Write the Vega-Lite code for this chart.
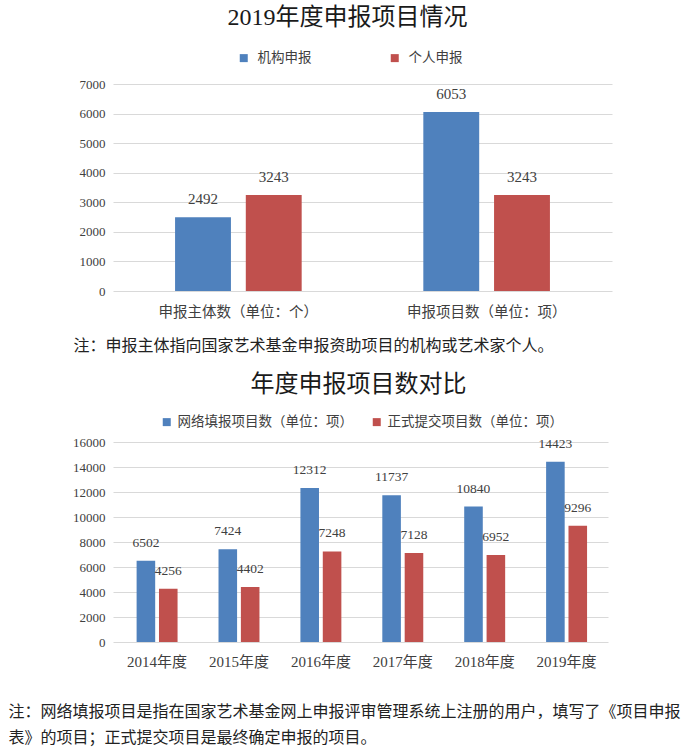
{
  "$schema": "https://vega.github.io/schema/vega-lite/v6.json",
  "background": "white",
  "padding": {"left": 8, "top": 6, "right": 5, "bottom": 5},
  "config": {
    "font": "'Liberation Serif', 'Noto Sans CJK SC', serif",
    "view": {"stroke": null},
    "axis": {"labelFont": "'Liberation Serif', 'Noto Sans CJK SC', serif", "titleFont": "'Liberation Serif', 'Noto Sans CJK SC', serif"},
    "legend": {"labelFont": "'Liberation Serif', 'Noto Sans CJK SC', serif", "labelLimit": 400},
    "title": {"font": "'Liberation Serif', 'Noto Sans CJK SC', serif", "fontWeight": "normal", "color": "#1a1a1a"}
  },
  "bounds": "flush",
  "spacing": 151,
  "resolve": {"scale": {"color": "independent", "x": "independent", "y": "independent", "xOffset": "independent"}},
  "vconcat": [
    {
      "width": 499,
      "height": 207,
      "title": {"text": "2019年度申报项目情况", "fontSize": 24, "offset": 21, "dx": -15},
      "data": {"values": [
        {"cat": "申报主体数（单位：个）", "series": "机构申报", "value": 2492},
        {"cat": "申报主体数（单位：个）", "series": "个人申报", "value": 3243},
        {"cat": "申报项目数（单位：项）", "series": "机构申报", "value": 6053},
        {"cat": "申报项目数（单位：项）", "series": "个人申报", "value": 3243}
      ]},
      "encoding": {
        "x": {"field": "cat", "type": "nominal", "sort": null,
          "scale": {"paddingInner": 0.49, "paddingOuter": 0.25},
          "axis": {"labelAngle": 0, "domain": false, "ticks": false, "labelPadding": 14, "labelFontSize": 14.5, "labelColor": "#404040",
            "title": "注：申报主体指向国家艺术基金申报资助项目的机构或艺术家个人。",
            "titleFontSize": 16, "titleFontWeight": "normal", "titleColor": "#222222",
            "titleX": -40, "titleY": 46, "titleAlign": "left", "titleBaseline": "top", "titleAnchor": "start"}},
        "xOffset": {"field": "series", "type": "nominal", "sort": ["机构申报", "个人申报"],
          "scale": {"domain": ["机构申报", "个人申报"], "paddingInner": 0.21, "paddingOuter": 0}},
        "y": {"field": "value", "type": "quantitative",
          "scale": {"domain": [0, 7000], "nice": false},
          "axis": {"values": [0, 1000, 2000, 3000, 4000, 5000, 6000, 7000], "format": "d", "title": null,
            "domain": false, "ticks": false, "labelPadding": 8, "labelFontSize": 13, "labelColor": "#404040",
            "gridColor": "#d9d9d9", "gridWidth": 1}}
      },
      "layer": [
        {"mark": {"type": "bar"},
          "encoding": {"color": {"field": "series", "type": "nominal", "sort": ["机构申报", "个人申报"],
            "scale": {"domain": ["机构申报", "个人申报"], "range": ["#4f81bd", "#c0504d"]},
            "legend": {"title": null, "orient": "none", "direction": "horizontal", "columns": 2,
              "legendX": 124, "legendY": -33, "symbolType": "square", "symbolSize": 64, "symbolStrokeWidth": 0,
              "labelFontSize": 13.5, "labelColor": "#404040", "labelOffset": 7, "columnPadding": 76}}}},
        {"mark": {"type": "text", "baseline": "middle", "dy": -18, "fontSize": 15, "color": "#404040"},
          "encoding": {"text": {"field": "value", "type": "quantitative", "format": "d"}}}
      ]
    },
    {
      "width": 495,
      "height": 200,
      "title": {"text": "年度申报项目数对比", "fontSize": 24, "offset": 18, "dx": -2},
      "data": {"values": [
        {"year": "2014年度", "series": "网络填报项目数（单位：项）", "value": 6502},
        {"year": "2014年度", "series": "正式提交项目数（单位：项）", "value": 4256},
        {"year": "2015年度", "series": "网络填报项目数（单位：项）", "value": 7424},
        {"year": "2015年度", "series": "正式提交项目数（单位：项）", "value": 4402},
        {"year": "2016年度", "series": "网络填报项目数（单位：项）", "value": 12312},
        {"year": "2016年度", "series": "正式提交项目数（单位：项）", "value": 7248},
        {"year": "2017年度", "series": "网络填报项目数（单位：项）", "value": 11737},
        {"year": "2017年度", "series": "正式提交项目数（单位：项）", "value": 7128},
        {"year": "2018年度", "series": "网络填报项目数（单位：项）", "value": 10840},
        {"year": "2018年度", "series": "正式提交项目数（单位：项）", "value": 6952},
        {"year": "2019年度", "series": "网络填报项目数（单位：项）", "value": 14423},
        {"year": "2019年度", "series": "正式提交项目数（单位：项）", "value": 9296}
      ]},
      "encoding": {
        "x": {"field": "year", "type": "nominal", "sort": null,
          "scale": {"paddingInner": 0.5, "paddingOuter": 0.272, "align": 0.53},
          "axis": {"labelAngle": 0, "domain": false, "ticks": false, "labelPadding": 12, "labelFontSize": 15, "labelColor": "#404040",
            "title": ["注：网络填报项目是指在国家艺术基金网上申报评审管理系统上注册的用户，填写了《项目申报", "表》的项目；正式提交项目是最终确定申报的项目。"],
            "titleFontSize": 16, "titleFontWeight": "normal", "titleColor": "#222222", "titleLineHeight": 26,
            "titleX": -105, "titleY": 61, "titleAlign": "left", "titleBaseline": "top", "titleAnchor": "start"}},
        "xOffset": {"field": "series", "type": "nominal", "sort": ["网络填报项目数（单位：项）", "正式提交项目数（单位：项）"],
          "scale": {"domain": ["网络填报项目数（单位：项）", "正式提交项目数（单位：项）"], "paddingInner": 0.17, "paddingOuter": 0}},
        "y": {"field": "value", "type": "quantitative",
          "scale": {"domain": [0, 16000], "nice": false},
          "axis": {"values": [0, 2000, 4000, 6000, 8000, 10000, 12000, 14000, 16000], "format": "d", "title": null,
            "domain": false, "ticks": false, "labelPadding": 8, "labelFontSize": 13, "labelColor": "#404040",
            "gridColor": "#d9d9d9", "gridWidth": 1}}
      },
      "layer": [
        {"mark": {"type": "bar"},
          "encoding": {"color": {"field": "series", "type": "nominal", "sort": ["网络填报项目数（单位：项）", "正式提交项目数（单位：项）"],
            "scale": {"domain": ["网络填报项目数（单位：项）", "正式提交项目数（单位：项）"], "range": ["#4f81bd", "#c0504d"]},
            "legend": {"title": null, "orient": "none", "direction": "horizontal", "columns": 2,
              "legendX": 47, "legendY": -27, "symbolType": "square", "symbolSize": 64, "symbolStrokeWidth": 0,
              "labelFontSize": 13.5, "labelColor": "#404040", "labelOffset": 4, "columnPadding": 17}}}},
        {"mark": {"type": "text", "baseline": "middle", "dy": -18, "fontSize": 13.5, "color": "#404040"},
          "encoding": {"text": {"field": "value", "type": "quantitative", "format": "d"}}}
      ]
    }
  ]
}
